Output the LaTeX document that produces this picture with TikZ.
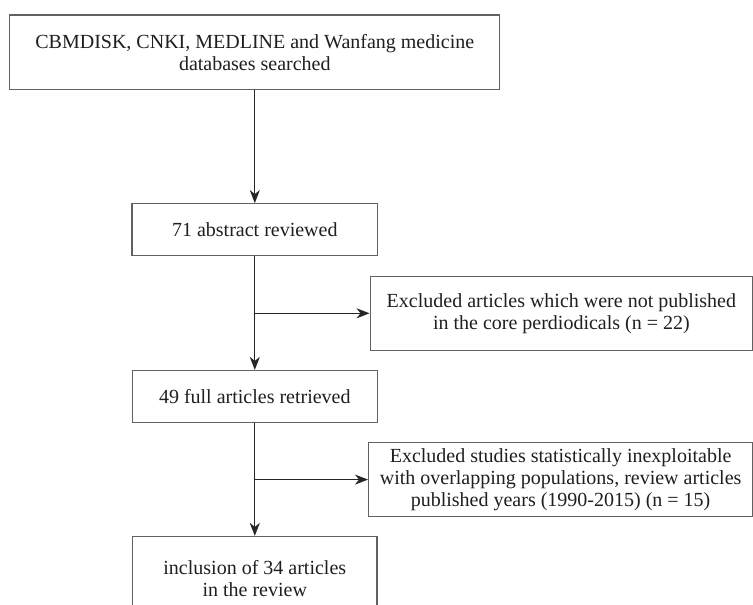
\documentclass[tikz,border=0pt]{standalone}
\usepackage{fontspec}
\setmainfont{Liberation Serif}
\usetikzlibrary{arrows.meta}
\begin{document}
\begin{tikzpicture}[x=1pt,y=-1pt,
  box/.style={draw=black!62, line width=1.2pt, fill=white, align=center,
    inner sep=0pt, text=black!88, font=\fontsize{20}{22}\selectfont},
  arr/.style={draw=black!85, line width=1pt, -{Stealth[length=13pt,width=10pt,inset=4pt]}}]
\useasboundingbox (0,0) rectangle (753,605);
\clip (0,0) rectangle (753,605);
\fill[white] (0,0) rectangle (753,605);
\node[box, minimum width=490pt, minimum height=74.6pt] (db) at (254.8,52.2)
  {CBMDISK, CNKI, MEDLINE and Wanfang medicine\\databases searched};
\node[box, minimum width=245.5pt, minimum height=52pt] (abs) at (254.8,229.7)
  {71 abstract reviewed};
\node[box, minimum width=382.5pt, minimum height=74pt] (ex1) at (561.4,313.3)
  {Excluded articles which were not published\\in the core perdiodicals (n = 22)};
\node[box, minimum width=245pt, minimum height=52pt] (full) at (254.8,396.5)
  {49 full articles retrieved};
\node[box, minimum width=384pt, minimum height=74.4pt] (ex2) at (560.6,479.6)
  {Excluded studies statistically inexploitable\\with overlapping populations, review articles\\published years (1990-2015) (n = 15)};
\node[box, minimum width=244.5pt, minimum height=84pt] (inc) at (254.8,578.5)
  {inclusion of 34 articles\\in the review};
\coordinate (b1) at (abs.south |- ex1.west);
\coordinate (b2) at (full.south |- ex2.west);
\draw[arr] (db.south) -- (abs.north);
\draw[arr] (abs.south) -- (full.north);
\draw[arr] (full.south) -- (inc.north);
\draw[arr] (b1) -- (ex1.west);
\draw[arr] (b2) -- (ex2.west);
\end{tikzpicture}
\end{document}
